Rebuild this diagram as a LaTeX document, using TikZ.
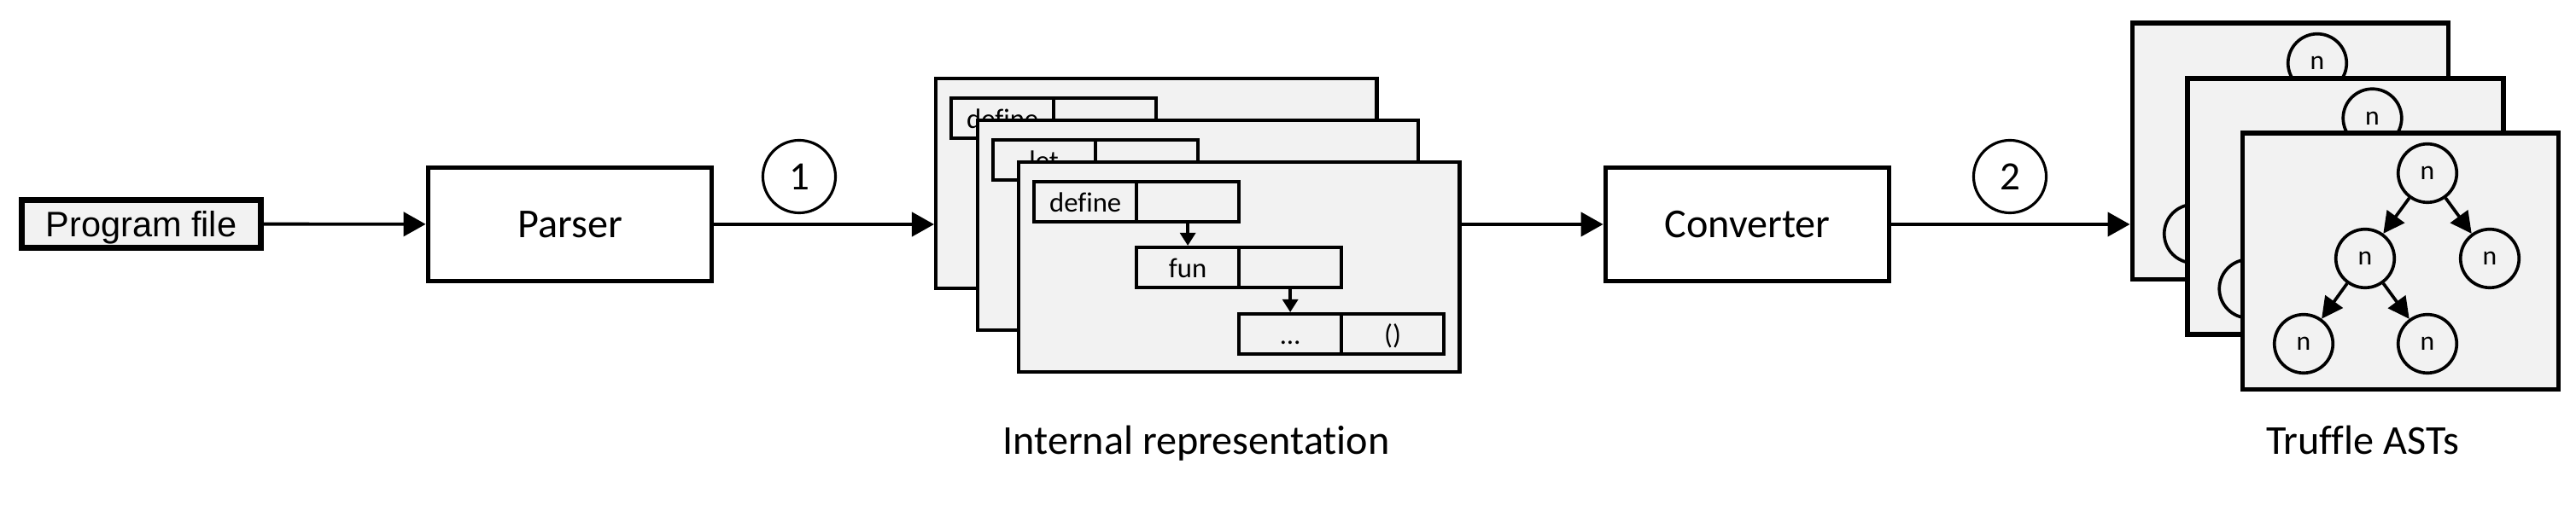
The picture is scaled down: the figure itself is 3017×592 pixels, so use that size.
\documentclass[tikz,border=0pt]{standalone}
\usepackage{fontspec}
\setmainfont{Carlito}[Ligatures=NoCommon]
\newfontfamily\arialf{Liberation Sans}
\usetikzlibrary{arrows.meta}
\definecolor{lgray}{HTML}{F2F2F2}
\newcommand{\asttree}[1]{%
  \node[tn] (#1r) at (219.5,49.5) {n};
  \node[tn] (#1a) at (146.5,149.5) {n};
  \node[tn] (#1b) at (292.5,149.5) {n};
  \node[tn] (#1c) at (74.5,249.5) {n};
  \node[tn] (#1d) at (219.5,249.5) {n};
  \draw[tarr] (#1r) -- (#1a);
  \draw[tarr] (#1r) -- (#1b);
  \draw[tarr] (#1a) -- (#1c);
  \draw[tarr] (#1a) -- (#1d);
}
\begin{document}
\begin{tikzpicture}[x=0.01cm,y=-0.01cm,
  arr/.style={line width=1.1pt,-{Triangle[length=7.4pt,width=8pt]}},
  proc/.style={draw,line width=1.6pt,fill=white,minimum width=3.32cm,minimum height=1.33cm,inner sep=0pt,font=\fontsize{13.7pt}{16pt}\selectfont},
  num/.style={draw,circle,line width=0.9pt,minimum size=0.85cm,inner sep=0pt,font=\fontsize{13.4pt}{16pt}\selectfont},
  ircard/.style={draw,line width=1.2pt,fill=lgray,minimum width=5.16cm,minimum height=2.46cm,anchor=north west,inner sep=0pt},
  cell/.style={draw,line width=1.2pt,fill=lgray,minimum width=1.2cm,minimum height=0.47cm,anchor=north west,inner sep=0pt,text height=0.65em,text depth=0pt,font=\fontsize{9.3pt}{11pt}\selectfont},
  small/.style={line width=1.2pt,-{Triangle[length=4.3pt,width=5.1pt]}},
  tcard/.style={draw,line width=1.6pt,fill=lgray,minimum width=3.7cm,minimum height=3cm,anchor=north west,inner sep=0pt},
  tn/.style={draw,circle,line width=1.05pt,fill=lgray,minimum size=0.685cm,inner sep=0pt,font=\fontsize{9pt}{10pt}\selectfont},
  tarr/.style={line width=1.05pt,-{Triangle[length=7.1pt,width=7.1pt]}},
  lbl/.style={anchor=base,font=\fontsize{13.7pt}{16pt}\selectfont}
]
\useasboundingbox (0,0) rectangle (3017,592);

\node[draw,line width=1.8pt,fill=lgray,minimum width=2.8cm,minimum height=0.56cm,inner sep=0pt,text depth=0pt,font=\arialf\fontsize{11.8pt}{13pt}\selectfont] (prog) at (165.5,262.5) {Program file};
\node[proc] (parser) at (667.5,263) {Parser};
\node[proc] (conv) at (2046.5,263) {Converter};
\node[num] (c1) at (936,207) {1};
\node[num] (c2) at (2354,207) {2};

% Internal representation stack
\begin{scope}[shift={(1094,90)}]
  \node[ircard] (ir1) at (0,0) {};
  \node[cell] (a1) at (18,23) {define};
  \node[cell] (a2) at (138,23) {};
\end{scope}
\begin{scope}[shift={(1142.5,139)}]
  \node[ircard] (ir2) at (0,0) {};
  \node[cell] (b1) at (18,23) {let};
  \node[cell] (b2) at (138,23) {};
\end{scope}
\begin{scope}[shift={(1191,188)}]
  \node[ircard] (ir3) at (0,0) {};
  \node[cell] (d1) at (18,23) {define};
  \node[cell] (d2) at (138,23) {};
  \node[cell] (f1) at (138,100) {fun};
  \node[cell] (f2) at (258,100) {};
  \node[cell] (e1) at (258,178) {\dots};
  \node[cell] (e2) at (378,178) {()};
\end{scope}
\draw[small] (d2.south) -- (f1.north);
\draw[small] (f2.south) -- (e1.north);

% Truffle AST stack
\begin{scope}[shift={(2494.5,24.5)}]
  \node[tcard] (tc1) at (0,0) {};
  \asttree{p}
\end{scope}
\begin{scope}[shift={(2559,89)}]
  \node[tcard] (tc2) at (0,0) {};
  \asttree{q}
\end{scope}
\begin{scope}[shift={(2623.5,153.5)}]
  \node[tcard] (tc3) at (0,0) {};
  \asttree{s}
\end{scope}

% labels
\node[lbl] (lir) at (1401,533) {Internal representation};
\node[lbl] (last) at (2767,533) {Truffle ASTs};

% main connectors
\draw[arr] (prog) -- (parser);
\draw[arr] (parser.east) -- (parser.east -| ir1.west);
\draw[arr] (ir3.east |- conv.west) -- (conv.west);
\draw[arr] (conv.east) -- (conv.east -| tc1.west);
\end{tikzpicture}
\end{document}
